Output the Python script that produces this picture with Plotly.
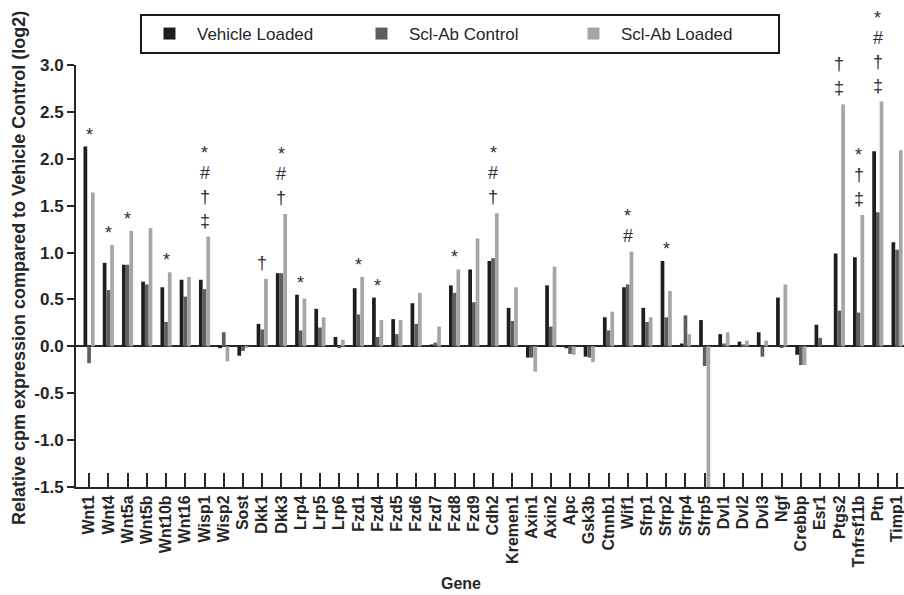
import plotly.graph_objects as go

genes = ["Wnt1", "Wnt4", "Wnt5a", "Wnt5b", "Wnt10b", "Wnt16", "Wisp1", "Wisp2", "Sost",
         "Dkk1", "Dkk3", "Lrp4", "Lrp5", "Lrp6", "Fzd1", "Fzd4", "Fzd5", "Fzd6", "Fzd7",
         "Fzd8", "Fzd9", "Cdh2", "Kremen1", "Axin1", "Axin2", "Apc", "Gsk3b", "Ctnnb1",
         "Wif1", "Sfrp1", "Sfrp2", "Sfrp4", "Sfrp5", "Dvl1", "Dvl2", "Dvl3", "Ngf",
         "Crebbp", "Esr1", "Ptgs2", "Tnfrsf11b", "Ptn", "Timp1"]

vehicle_loaded = [2.13, 0.89, 0.87, 0.69, 0.63, 0.71, 0.71, -0.02, -0.10,
                  0.24, 0.78, 0.55, 0.40, 0.10, 0.62, 0.52, 0.29, 0.46, 0.02,
                  0.65, 0.82, 0.91, 0.41, -0.12, 0.65, -0.02, -0.11, 0.31,
                  0.63, 0.41, 0.91, 0.03, 0.28, 0.13, 0.05, 0.15, 0.52,
                  -0.09, 0.23, 0.99, 0.95, 2.08, 1.11]

sclab_control = [-0.18, 0.60, 0.87, 0.66, 0.26, 0.53, 0.61, 0.15, -0.05,
                 0.18, 0.78, 0.17, 0.20, -0.02, 0.34, 0.10, 0.13, 0.24, 0.04,
                 0.57, 0.47, 0.94, 0.27, -0.12, 0.21, -0.08, -0.12, 0.17,
                 0.66, 0.26, 0.31, 0.33, -0.21, 0.03, 0.02, -0.11, -0.01,
                 -0.20, 0.09, 0.38, 0.36, 1.43, 1.03]

sclab_loaded = [1.64, 1.08, 1.23, 1.26, 0.79, 0.74, 1.17, -0.16, -0.01,
                0.72, 1.41, 0.51, 0.31, 0.07, 0.74, 0.28, 0.28, 0.57, 0.21,
                0.82, 1.15, 1.42, 0.63, -0.27, 0.85, -0.09, -0.17, 0.37,
                1.01, 0.31, 0.59, 0.13, -1.50, 0.15, 0.06, 0.06, 0.66,
                -0.20, 0.00, 2.58, 1.40, 2.61, 2.09]

series_names = ["Vehicle Loaded", "Scl-Ab Control", "Scl-Ab Loaded"]
series_colors = ["#1e1e1e", "#5e5e5e", "#a6a6a6"]

# significance marks (listed top to bottom)
sig_genes = ["Wnt1", "Wnt4", "Wnt5a", "Wnt10b", "Wisp1", "Dkk1", "Dkk3", "Lrp4", "Fzd1",
             "Fzd4", "Fzd8", "Cdh2", "Wif1", "Sfrp2", "Ptgs2", "Tnfrsf11b", "Ptn"]
sig_marks = [["*"], ["*"], ["*"], ["*"], ["*", "#", "†", "‡"], ["†"], ["*", "#", "†"],
             ["*"], ["*"], ["*"], ["*"], ["*", "#", "†"], ["*", "#"], ["*"],
             ["†", "‡"], ["*", "†", "‡"], ["*", "#", "†", "‡"]]

y_tickvals = [-1.5, -1.0, -0.5, 0.0, 0.5, 1.0, 1.5, 2.0, 2.5, 3.0]
y_ticktext = ["-1.5", "-1.0", "-0.5", "0.0", "0.5", "1.0", "1.5", "2.0", "2.5", "3.0"]

FONT = "Liberation Sans, Arial, sans-serif"
TXT = "#262626"

fig = go.Figure()
for name, vals, col in zip(series_names, [vehicle_loaded, sclab_control, sclab_loaded], series_colors):
    fig.add_trace(go.Bar(x=genes, y=vals, name=name, marker=dict(color=col, line=dict(width=0)),
                         cliponaxis=True))

annotations = []
for g, marks in zip(sig_genes, sig_marks):
    i = genes.index(g)
    top = max(vehicle_loaded[i], sclab_control[i], sclab_loaded[i])
    for k, m in enumerate(reversed(marks)):
        shift = 16 + 24 * k
        if m == "*":
            shift -= 4
        annotations.append(dict(x=g, y=top, xref="x", yref="y", text=m, showarrow=False,
                                yanchor="middle", yshift=shift,
                                font=dict(family=FONT, size=18, color="#2e2e2e")))

annotations.append(dict(text="<b>Relative cpm expression compared to Vehicle Control (log2)</b>",
                        xref="paper", yref="paper", x=(19 - 76) / 828, y=(487 - 268) / 422,
                        textangle=-90, showarrow=False, xanchor="center", yanchor="middle",
                        font=dict(family=FONT, size=18, color=TXT)))
annotations.append(dict(text="<b>Gene</b>", xref="paper", yref="paper",
                        x=(461 - 76) / 828, y=(487 - 583) / 422, showarrow=False,
                        xanchor="center", yanchor="middle",
                        font=dict(family=FONT, size=16, color=TXT)))

fig.update_layout(
    width=904, height=595,
    margin=dict(l=76, r=0, t=65, b=108),
    paper_bgcolor="white", plot_bgcolor="white",
    barmode="group", bargap=0.42, bargroupgap=0,
    showlegend=True,
    legend=dict(orientation="h", x=(140 - 76) / 828, y=(487 - 14) / 422,
                xanchor="left", yanchor="top",
                bordercolor="#1a1a1a", borderwidth=2, bgcolor="white",
                itemwidth=45,
                entrywidth=152, entrywidthmode="pixels",
                font=dict(family=FONT, size=17, color=TXT)),
    annotations=annotations,
    xaxis=dict(range=[-0.68, 42.36], showline=True, linecolor="#262626", linewidth=2,
               ticks="inside", ticklen=14, tickwidth=2, tickcolor="#262626",
               tickangle=-90, tickfont=dict(family=FONT, size=16, color=TXT),
               showgrid=False, zeroline=False, anchor="y", position=0),
    yaxis=dict(range=[-1.5, 3.0], tickvals=y_tickvals, ticktext=[f"<b>{t}</b>" for t in y_ticktext],
               showline=True, linecolor="#262626", linewidth=2,
               ticks="outside", ticklen=7, tickwidth=2, tickcolor="#262626",
               tickfont=dict(family=FONT, size=17, color=TXT),
               showgrid=False, zeroline=True, zerolinecolor="#262626", zerolinewidth=2),
)
fig.update_xaxes(ticktext=[f"<b>{g}</b>" for g in genes], tickvals=genes)

fig.write_html("out.html")
